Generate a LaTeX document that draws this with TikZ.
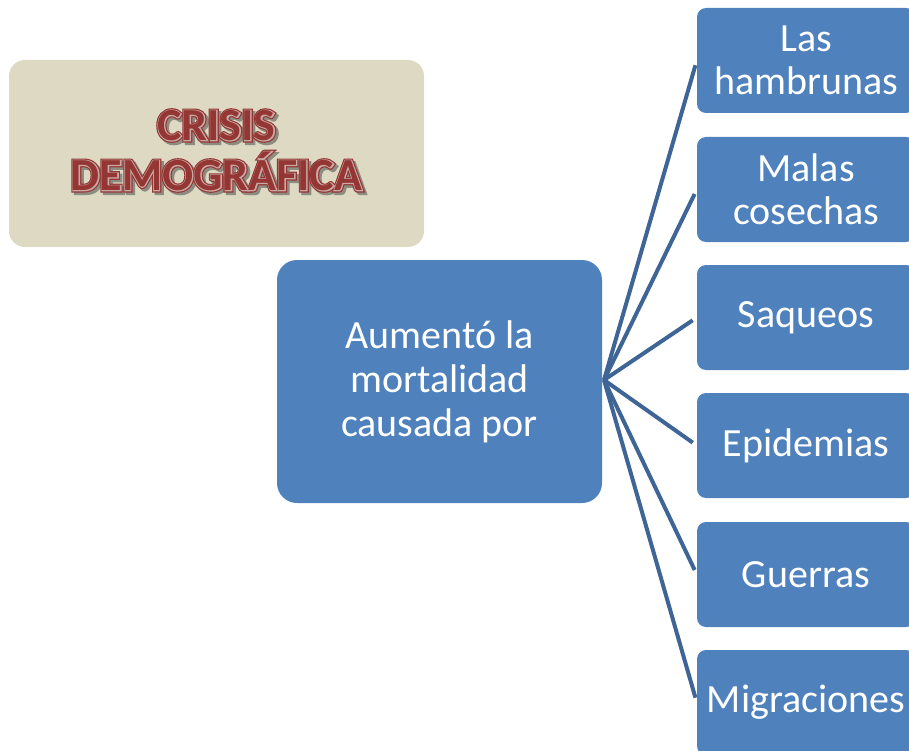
\documentclass[tikz,border=0pt]{standalone}
\usepackage{fontspec}
\usetikzlibrary{calc}
\setmainfont{Carlito}
\newfontfamily\ttlthick{Carlito}[UprightFont={* Bold},FakeBold=9]
\newfontfamily\ttlmid{Carlito}[UprightFont={* Bold},FakeBold=4]
\newfontfamily\ttlplain{Carlito}[UprightFont={* Bold}]
\definecolor{boxblue}{HTML}{4F81BD}
\definecolor{linkblue}{HTML}{3E6596}
\definecolor{titlebg}{HTML}{DDD9C3}
\definecolor{titlered}{HTML}{943634}
\definecolor{titlelight}{HTML}{C8A9A4}
\definecolor{titleshadow}{HTML}{8C8C80}
\newcommand{\crisistext}{CRISIS\\DEMOGRÁFICA}
\begin{document}
\begin{tikzpicture}[x=1pt,y=-1pt,
  catbox/.style={draw=none,fill=boxblue,rounded corners=9pt,minimum width=218pt,minimum height=105pt,
    text=white,align=center,font=\fontsize{40}{43}\selectfont,inner sep=0pt},
  centerbox/.style={draw=none,fill=boxblue,rounded corners=20pt,minimum width=325pt,minimum height=243pt,
    text=white,align=center,font=\fontsize{40}{44}\selectfont,inner sep=0pt},
  titlebox/.style={draw=none,fill=titlebg,rounded corners=16pt,minimum width=415pt,minimum height=187pt,inner sep=0pt},
  ttl/.style={align=center,inner sep=0pt},
  link/.style={draw=linkblue,line width=4pt,shorten >=5pt}]
\useasboundingbox (0,0) rectangle (909,751);
\clip (0,0) rectangle (909,751);
% title
\node[titlebox] (title) at (216.5,153.5) {};
\coordinate (tc) at ($(title.center)+(0,-3)$);
\node[ttl,text=titleshadow,font=\ttlthick\fontsize{46}{50}\selectfont] (tshadow) at ($(tc)+(2.5,2.5)$) {\crisistext};
\node[ttl,text=titlered,font=\ttlthick\fontsize{46}{50}\selectfont] (touter) at (tc) {\crisistext};
\node[ttl,text=titlelight,font=\ttlmid\fontsize{46}{50}\selectfont] (tmid) at (tc) {\crisistext};
\node[ttl,text=titlered,font=\ttlplain\fontsize{46}{50}\selectfont] (titletext) at (tc) {\crisistext};
% center
\node[centerbox] (mid) at (439.5,381.5) {Aumentó la\\mortalidad\\causada por};
\coordinate (hub) at (604,380);
% right boxes
\node[catbox] (b1) at (806,60.5) {Las\\hambrunas};
\node[catbox] (b2) at (806,189.5) {Malas\\cosechas};
\node[catbox] (b3) at (806,317.5) {Saqueos};
\node[catbox] (b4) at (806,445.5) {Epidemias};
\node[catbox] (b5) at (806,574.5) {Guerras};
\node[catbox] (b6) at (806,702.5) {Migraciones};
\foreach \b in {b1,b2,b3,b4,b5,b6}{
  \draw[link] (hub) -- (\b.west);}
\end{tikzpicture}
\end{document}
